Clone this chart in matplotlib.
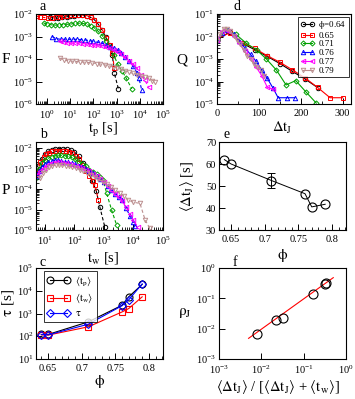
import numpy as np
from matplotlib import pyplot as plt
from matplotlib.ticker import LogLocator, MultipleLocator, NullLocator, NullFormatter

plt.rcParams['font.family'] = ['Liberation Serif', 'DejaVu Serif']
plt.rcParams['mathtext.fontset'] = 'stix'
plt.rcParams['font.size'] = 8
plt.rcParams['axes.linewidth'] = 0.8

phiNames = ['0.64', '0.65', '0.71', '0.76', '0.77', '0.79']
colors = ['black', 'red', '#00a000', 'blue', 'magenta', '#bc8f8f']
markers = ['o', 's', 'D', '^', '<', 'v']

# panel a: F(t_p)
tp064 = [1.3, 2.0, 3.0, 4.5, 7, 10, 15, 22, 33, 50, 75, 110, 160, 230, 330, 480, 650, 800, 1180]
F064 = [7.5e-3, 6.8e-3, 6.5e-3, 7e-3, 7.5e-3, 8e-3, 8.5e-3, 9e-3, 9e-3, 8.5e-3, 7e-3, 5.5e-3, 3.5e-3, 2e-3, 1e-3, 4e-4, 1.5e-4, 2.3e-5, 4.8e-6]
tp065 = [0.35, 0.5, 0.75, 1.1, 1.6, 2.4, 3.5, 5, 7.5, 11, 16, 24, 35, 50, 75, 110, 160, 240, 350, 500, 660, 780]
F065 = [8e-3, 7.5e-3, 7e-3, 6.5e-3, 6.5e-3, 7e-3, 7.5e-3, 8e-3, 8.5e-3, 9e-3, 9.5e-3, 9.5e-3, 9e-3, 8.5e-3, 7.5e-3, 5.5e-3, 3.5e-3, 2e-3, 9e-4, 4e-4, 1.8e-4, 4e-5]
tp071 = [0.7, 1.0, 1.5, 2.2, 3.3, 5, 7.5, 11, 16, 24, 35, 50, 75, 110, 160, 240, 350, 500, 750, 1100, 1700, 2500, 4500]
F071 = [4e-3, 3.5e-3, 3.3e-3, 3.2e-3, 3.3e-3, 3.4e-3, 3.5e-3, 3.6e-3, 3.8e-3, 3.9e-3, 3.8e-3, 3.5e-3, 3e-3, 2.4e-3, 1.7e-3, 1.1e-3, 6e-4, 3.5e-4, 1.5e-4, 6e-5, 3e-5, 1.5e-5, 4.7e-6]
tp076 = [1.6, 2.5, 4, 6, 9, 13, 20, 30, 45, 70, 100, 150, 230, 350, 500, 750, 1100, 1600, 2400, 3500, 5000, 7500, 9000, 12000]
F076 = [1e-3, 8e-4, 7.5e-4, 7.5e-4, 7.5e-4, 7.5e-4, 7.5e-4, 7.2e-4, 7e-4, 6.5e-4, 6e-4, 5.5e-4, 5e-4, 4.2e-4, 3.5e-4, 3e-4, 2.5e-4, 1.8e-4, 1.2e-4, 8e-5, 5e-5, 2.5e-5, 1.5e-5, 4.3e-6]
tp077 = [3.5, 5, 7.5, 11, 16, 24, 35, 50, 75, 110, 160, 240, 350, 500, 750, 1100, 1600, 2400, 3500, 5000, 7500, 11000, 16000, 24000]
F077 = [6e-4, 5.5e-4, 5.2e-4, 5e-4, 5e-4, 5e-4, 4.8e-4, 4.6e-4, 4.4e-4, 4.2e-4, 4e-4, 3.7e-4, 3.3e-4, 3e-4, 2.5e-4, 2e-4, 1.6e-4, 1.2e-4, 8e-5, 6e-5, 4e-5, 2e-5, 1.2e-5, 5.5e-6]
tp079 = [3.5, 5.5, 8, 12, 18, 27, 40, 60, 90, 135, 200, 300, 450, 700, 1000, 1500, 2300, 3500, 5000, 7500, 11000, 17000, 25000, 35000, 45000]
F079 = [1.1e-4, 9e-5, 8.5e-5, 8e-5, 7.8e-5, 7.5e-5, 7.2e-5, 7e-5, 6.7e-5, 6.3e-5, 6e-5, 5.5e-5, 5e-5, 4.5e-5, 4e-5, 3.5e-5, 3e-5, 2.6e-5, 2.3e-5, 2e-5, 1.8e-5, 1.6e-5, 1.4e-5, 1.1e-5, 1e-5]

# panel b: P(t_w)
tw064 = [5.2, 6.5, 8, 10, 13, 17, 22, 30, 40, 55, 75, 100, 140, 200, 280, 400, 550, 720, 1070]
P064 = [4e-4, 1.5e-3, 3e-3, 5e-3, 7e-3, 8e-3, 9e-3, 9.5e-3, 9.5e-3, 9e-3, 8e-3, 6.5e-3, 4e-3, 1.8e-3, 8e-4, 2.5e-4, 8e-5, 1.4e-5, 1.4e-6]
tw065 = [5.5, 7, 9, 11, 14, 18, 23, 30, 38, 50, 65, 85, 110, 140, 180, 240, 320, 420, 500, 650]
P065 = [7e-4, 2e-3, 3.5e-3, 5e-3, 6e-3, 7e-3, 7.5e-3, 7.5e-3, 7.5e-3, 7e-3, 6.5e-3, 5.5e-3, 4e-3, 2.8e-3, 1.5e-3, 8e-4, 4.5e-4, 2.5e-4, 1.5e-4, 2.9e-5]
tw071 = [5.2, 6.5, 8, 10, 13, 17, 22, 28, 36, 47, 60, 80, 105, 140, 180, 240, 320, 420, 560, 750, 950, 1230, 1820, 2700]
P071 = [4e-4, 1e-3, 1.8e-3, 2.5e-3, 3.2e-3, 3.8e-3, 4.2e-3, 4.5e-3, 4.5e-3, 4.3e-3, 4e-3, 3.5e-3, 2.8e-3, 2.2e-3, 1.7e-3, 1.4e-3, 9e-4, 7e-4, 5.5e-4, 4e-4, 2.7e-4, 6.3e-5, 9.5e-6, 1.7e-6]
tw076 = [5.2, 6.5, 8, 10, 13, 17, 22, 28, 36, 47, 60, 80, 105, 140, 180, 240, 320, 420, 560, 750, 1000, 1350, 1800, 2400, 3200, 4200, 5600, 7500, 10000, 11500]
P076 = [4.5e-4, 8e-4, 1.2e-3, 1.6e-3, 2e-3, 2.3e-3, 2.5e-3, 2.5e-3, 2.4e-3, 2.2e-3, 2e-3, 1.8e-3, 1.6e-3, 1.4e-3, 1.2e-3, 1e-3, 8e-4, 6e-4, 4.5e-4, 3.2e-4, 2.2e-4, 1.4e-4, 9e-5, 6e-5, 4e-5, 2.8e-5, 1.2e-5, 5e-6, 2.5e-6, 1.5e-6]
tw077 = [5.5, 7, 9, 11, 14, 18, 23, 30, 38, 50, 65, 85, 110, 140, 180, 240, 320, 420, 560, 750, 1000, 1350, 1800, 2400, 3200, 4200, 5600, 7500, 10000, 14000]
P077 = [5e-4, 8e-4, 1.1e-3, 1.4e-3, 1.7e-3, 1.9e-3, 2e-3, 2e-3, 1.9e-3, 1.8e-3, 1.7e-3, 1.5e-3, 1.4e-3, 1.2e-3, 1.05e-3, 9e-4, 7.5e-4, 5.5e-4, 4.2e-4, 3e-4, 2.1e-4, 1.4e-4, 9e-5, 6e-5, 4e-5, 2.5e-5, 1.3e-5, 6e-6, 3e-6, 1.4e-6]
tw079 = [6.8, 8.5, 11, 14, 18, 23, 30, 38, 50, 65, 85, 110, 150, 200, 270, 360, 480, 650, 900, 1250, 1700, 2400, 3400, 4800, 6600, 9500, 16600, 25000, 36000]
P079 = [3.5e-4, 6e-4, 9e-4, 1.2e-3, 1.4e-3, 1.5e-3, 1.5e-3, 1.45e-3, 1.4e-3, 1.3e-3, 1.2e-3, 1.05e-3, 9e-4, 7.5e-4, 6e-4, 4.8e-4, 3.8e-4, 3e-4, 2.3e-4, 1.7e-4, 1.3e-4, 9e-5, 6.5e-5, 4.5e-5, 3e-5, 2.3e-5, 2e-5, 3e-6, 1.2e-6]

# panel d: Q(dt_J)
dt064 = [0, 30, 60, 90, 120, 150, 180, 210, 240]
Q064 = [6.9e-3, 1.6e-2, 5e-3, 2.6e-3, 1.3e-3, 6.3e-4, 2.8e-4, 1.3e-4, 5.4e-5]
dt065 = [0, 30, 60, 90, 120, 150, 180, 210, 240, 270, 300]
Q065 = [7.9e-3, 1.45e-2, 5.4e-3, 2.95e-3, 1.4e-3, 7.2e-4, 3.3e-4, 1.45e-4, 5.5e-5, 1.9e-5, 1.9e-5]
dt071 = [0, 22, 45, 70, 95, 118, 142, 165, 188, 212, 237]
Q071 = [7e-3, 1.9e-2, 1.25e-2, 5e-3, 2.5e-3, 1e-3, 3.2e-4, 7e-5, 1.1e-4, 3.5e-5, 1.1e-5]
dt076 = [0, 13, 26, 40, 53, 66, 80, 93, 107, 120, 134, 146, 166, 186]
Q076 = [7e-3, 1.4e-2, 1.9e-2, 1.25e-2, 6.3e-3, 3.2e-3, 1.6e-3, 8e-4, 3.2e-4, 1.4e-4, 5e-5, 1.9e-5, 1.9e-5, 1.9e-5]
dt077 = [0, 13, 26, 40, 53, 66, 80, 93, 107, 120, 134]
Q077 = [7e-3, 1.8e-2, 1.8e-2, 1.1e-2, 5e-3, 2.2e-3, 1e-3, 4.5e-4, 1.8e-4, 5.6e-5, 4.5e-5]
dt079 = [0, 8, 16, 24, 32, 40, 48, 56, 64, 72, 80, 88, 96, 104, 112]
Q079 = [6.3e-3, 1.25e-2, 2.2e-2, 2.2e-2, 1.8e-2, 1.1e-2, 7e-3, 4.5e-3, 2.5e-3, 1.4e-3, 1e-3, 6.3e-4, 4.5e-4, 3.2e-4, 1.8e-4]

# panel c / e / f
phi = [0.64, 0.65, 0.71, 0.76, 0.77, 0.79]
tpMean = [120, 120, 430, 2300, 5400, 19000]
twMean = [115, 112, 260, 1170, 1650, 5400]
tau = [118, 115, 340, 2200, 4000, 20000]
dtJMean = [62, 60, 52.5, 46.5, 40.5, 41.7]
dtJErr = [0, 0, 3.2, 0, 0, 0]
ratio = [0.32, 0.33, 0.166, 0.032, 0.022, 0.0081]
rhoJ = [0.29, 0.31, 0.144, 0.023, 0.020, 0.0069]
fitX = [0.005, 0.5]
fitY = [0.0048, 0.48]
phiTicks = [0.65, 0.7, 0.75, 0.8]
phiTickLabels = ['0.65', '0.7', '0.75', '0.8']

W, H = 355, 399


def box(l, t, r, b):
    return [l / W, 1 - b / H, (r - l) / W, (b - t) / H]


def styleAxis(ax):
    ax.tick_params(which='both', direction='in', top=False, right=False, labelsize=7.5)
    ax.tick_params(axis='y', pad=2)
    ax.tick_params(which='major', length=4, width=0.7)
    ax.tick_params(which='minor', length=2, width=0.6)


fig = plt.figure(figsize=(W / 100, H / 100), dpi=100)

axA = fig.add_axes(box(36, 14, 163, 104))
axB = fig.add_axes(box(36, 142, 163, 230))
axC = fig.add_axes(box(36, 268, 163, 359))
axD = fig.add_axes(box(217, 14, 351, 104))
axE = fig.add_axes(box(219, 142, 346, 230))
axF = fig.add_axes(box(219, 268, 346, 359))

tpAll = [tp064, tp065, tp071, tp076, tp077, tp079]
FAll = [F064, F065, F071, F076, F077, F079]
twAll = [tw064, tw065, tw071, tw076, tw077, tw079]
PAll = [P064, P065, P071, P076, P077, P079]
dtAll = [dt064, dt065, dt071, dt076, dt077, dt079]
QAll = [Q064, Q065, Q071, Q076, Q077, Q079]

for i in range(6):
    ms = 3.2 if markers[i] != 'D' else 2.6
    axA.plot(tpAll[i], FAll[i], ls=(0, (3, 2)), lw=0.8, color=colors[i], marker=markers[i],
             ms=ms, mfc='none', mew=0.7)
    axB.plot(twAll[i], PAll[i], ls=(0, (3, 2)), lw=0.8, color=colors[i], marker=markers[i],
             ms=ms, mfc='none', mew=0.7)
    lab = r'$\mathrm{\phi}$=' + phiNames[i] if i == 0 else phiNames[i]
    axD.plot(dtAll[i], QAll[i], ls='-', lw=0.8, color=colors[i], marker=markers[i],
             ms=ms, mfc='none', mew=0.7, label=lab)

for ax in [axA, axB]:
    ax.set_xscale('log')
    ax.set_yscale('log')
    styleAxis(ax)
    ax.xaxis.set_major_locator(LogLocator(base=10, numticks=20))
    ax.xaxis.set_minor_locator(LogLocator(base=10, subs=np.arange(2, 10), numticks=20))
    ax.xaxis.set_minor_formatter(NullFormatter())
    ax.yaxis.set_major_locator(LogLocator(base=10, numticks=20))

axA.set_xlim(0.33, 1e5)
axA.set_ylim(1e-6, 1e-2)
axA.yaxis.set_minor_locator(NullLocator())
axB.set_xlim(5, 1e5)
axB.set_ylim(1e-6, 2e-2)
axB.yaxis.set_minor_locator(LogLocator(base=10, subs=np.arange(2, 10), numticks=20))
axB.yaxis.set_minor_formatter(NullFormatter())

axA.set_xlabel(r'$\mathrm{t_p}$ [s]', fontsize=10.5)
axA.xaxis.set_label_coords(0.53, -0.19)
axA.set_ylabel('F', fontsize=11, rotation=0, va='center', ha='center')
axA.yaxis.set_label_coords(-0.235, 0.49)
axB.set_xlabel(r'$\mathrm{t_w}$ [s]', fontsize=10.5)
axB.xaxis.set_label_coords(0.53, -0.23)
axB.set_ylabel('P', fontsize=11, rotation=0, va='center', ha='center')
axB.yaxis.set_label_coords(-0.235, 0.45)

# panel c
axC.plot(phi, tpMean, '-', color='black', lw=0.8, marker='o', ms=5, mfc='none', mew=0.8, label=r'$\langle \mathrm{t_p}\rangle$')
axC.plot(phi, twMean, '-', color='red', lw=0.8, marker='s', ms=5, mfc='none', mew=0.8, label=r'$\langle \mathrm{t_w}\rangle$')
axC.plot(phi, tau, '-', color='blue', lw=0.8, marker='D', ms=4.2, mfc='none', mew=0.8, label=r'$\mathrm{\tau}$')
axC.set_yscale('log')
axC.set_ylim(10, 1e5)
axC.set_xlim(0.632, 0.821)
styleAxis(axC)
axC.yaxis.set_major_locator(LogLocator(base=10, numticks=20))
axC.yaxis.set_minor_locator(NullLocator())
axC.set_xticks(phiTicks)
axC.set_xticklabels(phiTickLabels)
axC.xaxis.set_minor_locator(MultipleLocator(0.01))
axC.set_xlabel(r'$\mathrm{\phi}$', fontsize=11)
axC.xaxis.set_label_coords(0.5, -0.15)
axC.set_ylabel(r'$\mathrm{\tau}$ [s]', fontsize=11, va='center', ha='center')
axC.yaxis.set_label_coords(-0.22, 0.62)
legC = axC.legend(loc='upper left', bbox_to_anchor=(0.06, 0.97), numpoints=2, handlelength=2.2,
                  fontsize=7.5, frameon=True, fancybox=False, borderpad=0.35, labelspacing=0.35,
                  handletextpad=0.5, borderaxespad=0)
legC.get_frame().set_edgecolor('black')
legC.get_frame().set_linewidth(0.7)

# panel d
axD.set_yscale('log')
axD.set_xlim(0, 320)
axD.set_ylim(1e-5, 1e-1)
styleAxis(axD)
axD.xaxis.set_major_locator(MultipleLocator(100))
axD.xaxis.set_minor_locator(MultipleLocator(50))
axD.yaxis.set_major_locator(LogLocator(base=10, numticks=20))
axD.yaxis.set_minor_locator(LogLocator(base=10, subs=np.arange(2, 10), numticks=20))
axD.yaxis.set_minor_formatter(NullFormatter())
axD.set_xlabel(r'$\mathrm{\Delta t_J}$', fontsize=10.5)
axD.xaxis.set_label_coords(0.49, -0.18)
axD.set_ylabel('Q', fontsize=11, rotation=0, va='center', ha='center')
axD.yaxis.set_label_coords(-0.265, 0.49)
legD = axD.legend(loc='upper right', bbox_to_anchor=(0.985, 0.97), numpoints=2, handlelength=1.6,
                  fontsize=6.5, frameon=True, fancybox=False, borderpad=0.25, labelspacing=0.05,
                  handletextpad=0.4, borderaxespad=0)
legD.get_frame().set_edgecolor('black')
legD.get_frame().set_linewidth(0.7)

# panel e
axE.plot(phi, dtJMean, '-', color='black', lw=0.7, marker='o', ms=6.5, mfc='none', mew=0.8)
errPhi = [phi[i] for i in range(6) if dtJErr[i] > 0]
errVal = [dtJMean[i] for i in range(6) if dtJErr[i] > 0]
errBar = [dtJErr[i] for i in range(6) if dtJErr[i] > 0]
axE.errorbar(errPhi, errVal, yerr=errBar, fmt='none', ecolor='black', elinewidth=0.7, capsize=3, capthick=0.7)
axE.set_xlim(0.632, 0.821)
axE.set_ylim(30, 70)
styleAxis(axE)
axE.set_xticks(phiTicks)
axE.set_xticklabels(phiTickLabels)
axE.xaxis.set_minor_locator(MultipleLocator(0.01))
axE.yaxis.set_major_locator(MultipleLocator(10))
axE.set_xlabel(r'$\mathrm{\phi}$', fontsize=11)
axE.xaxis.set_label_coords(0.5, -0.19)
axE.set_ylabel(r'$\langle\mathrm{\Delta t_J}\rangle$ [s]', fontsize=10.5, va='center', ha='center')
axE.yaxis.set_label_coords(-0.25, 0.49)

# panel f
axF.plot(fitX, fitY, '-', color='red', lw=0.8)
axF.plot(ratio, rhoJ, 'o', color='black', ms=6.5, mfc='none', mew=0.8)
axF.set_xscale('log')
axF.set_yscale('log')
axF.set_xlim(1e-3, 1)
axF.set_ylim(1e-3, 1)
styleAxis(axF)
axF.xaxis.set_major_locator(LogLocator(base=10, numticks=20))
axF.yaxis.set_major_locator(LogLocator(base=10, numticks=20))
axF.xaxis.set_minor_locator(NullLocator())
axF.yaxis.set_minor_locator(NullLocator())
axF.set_xlabel(r'$\langle\mathrm{\Delta t_J}\rangle$ / [$\langle\mathrm{\Delta t_J}\rangle$ + $\langle \mathrm{t_w}\rangle$]', fontsize=10.5)
axF.xaxis.set_label_coords(0.46, -0.21)
axF.set_ylabel(r'$\mathrm{\rho_J}$', fontsize=11, rotation=0, va='center', ha='center')
axF.yaxis.set_label_coords(-0.27, 0.5)

# panel letters
for letter, px, py in [('a', 43, 6), ('b', 43, 134), ('c', 43, 262), ('d', 237, 6), ('e', 227, 135), ('f', 235, 262)]:
    fig.text(px / W, 1 - py / H, letter, fontsize=10, ha='center', va='center')

fig.savefig('out.png', dpi=100)
